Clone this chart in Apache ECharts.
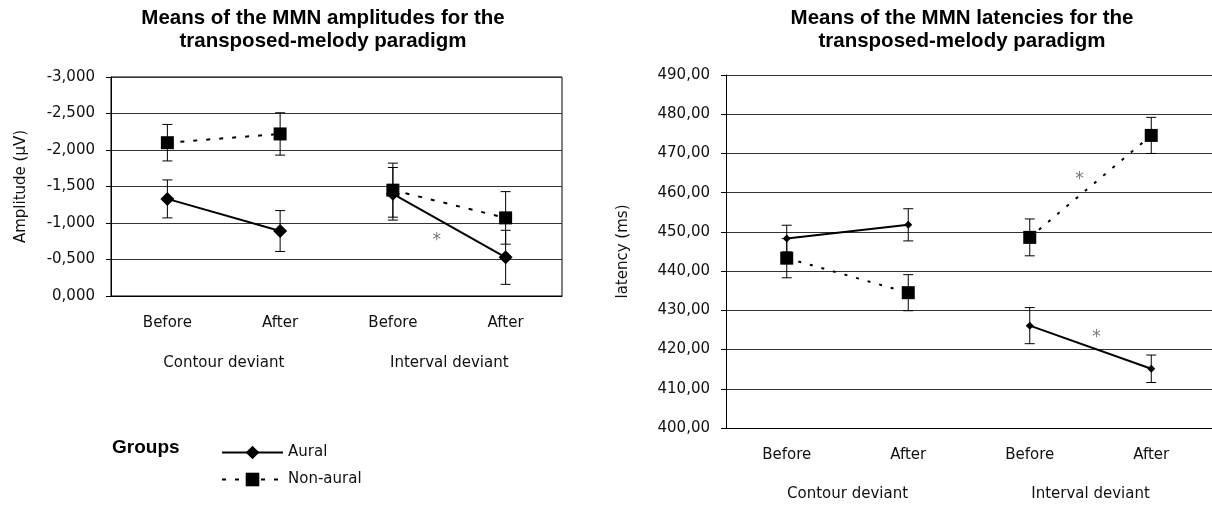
<!DOCTYPE html>
<html>
<head>
<meta charset="utf-8">
<script src="https://cdn.jsdelivr.net/npm/echarts@6/dist/echarts.min.js"></script>
<style>
  html, body { margin: 0; padding: 0; background: #fff; }
  #chart { width: 1212px; height: 506px; }
</style>
</head>
<body>
<div id="chart"></div>
<script>
// categories
var categories = ['Before', 'After', 'Before', 'After']
var deviants = ['Contour deviant', 'Interval deviant']

// amplitudes (µV), means and error half-widths
var ampAural = [-1.33, -0.89, -1.40, -0.53]
var ampAuralErr = [0.26, 0.28, 0.36, 0.37]
var ampNonAural = [-2.10, -2.22, -1.45, -1.07]
var ampNonAuralErr = [0.25, 0.29, 0.37, 0.36]

// latencies (ms)
var latAural = [448.3, 451.8, 426.1, 415.1]
var latAuralErr = [3.4, 4.1, 4.6, 3.5]
var latNonAural = [443.3, 434.5, 448.6, 474.6]
var latNonAuralErr = [5.0, 4.6, 4.7, 4.6]

// axis ranges [min, max, step]
var ampRange = [-3, 0, 0.5]
var latRange = [400, 490, 10]

// significance marks [x position in category units, value]
var ampStars = [[2.39, -0.81]]
var latStars = [[2.41, 464.3], [2.55, 424.0]]

var FONT = 'DejaVu Sans'

function errData (vals, errs) {
  return vals.map(function (v, i) { return [i, v - errs[i], v + errs[i]] })
}

// keep only the two points of one deviant (0 = contour, 1 = interval)
function part (vals, g) {
  return vals.map(function (v, i) { return Math.floor(i / 2) === g ? v : '-' })
}

function errorBarItem (params, api) {
  var x = api.value(0)
  var a = api.coord([x, api.value(1)])
  var b = api.coord([x, api.value(2)])
  var w = 5
  var st = { stroke: '#000', lineWidth: 1 }
  return {
    type: 'group',
    children: [
      { type: 'line', shape: { x1: a[0], y1: a[1], x2: b[0], y2: b[1] }, style: st },
      { type: 'line', shape: { x1: a[0] - w, y1: a[1], x2: a[0] + w, y2: a[1] }, style: st },
      { type: 'line', shape: { x1: b[0] - w, y1: b[1], x2: b[0] + w, y2: b[1] }, style: st }
    ]
  }
}

function catAxis (gridIndex, data, offset) {
  return {
    type: 'category',
    gridIndex: gridIndex,
    position: 'bottom',
    data: data,
    offset: offset,
    axisLine: { show: offset === 0, onZero: false, lineStyle: { color: '#000', width: 1 } },
    axisTick: { show: false },
    axisLabel: { interval: 0, margin: 20, color: '#111', fontFamily: FONT, fontSize: 15 },
    splitLine: { show: false }
  }
}

function hiddenX (gridIndex) {
  return { type: 'value', gridIndex: gridIndex, min: -0.5, max: 3.5, show: false }
}

function starSeries (xIdx, yIdx, data) {
  return {
    type: 'scatter',
    xAxisIndex: xIdx,
    yAxisIndex: yIdx,
    data: data,
    symbolSize: 1,
    itemStyle: { color: 'rgba(0,0,0,0)' },
    label: { show: true, position: 'inside', formatter: '*', color: '#555', fontFamily: FONT, fontSize: 17, offset: [0, 4] },
    silent: true,
    z: 5
  }
}

function lineSeries (name, xIdx, yIdx, vals, g, marker, size, dash) {
  return {
    name: name,
    type: 'line',
    xAxisIndex: xIdx,
    yAxisIndex: yIdx,
    data: part(vals, g),
    connectNulls: false,
    symbol: marker,
    symbolSize: size,
    itemStyle: { color: '#000' },
    lineStyle: { color: '#000', width: 2, type: dash || 'solid' },
    z: dash ? 3 : 4
  }
}

var yLabel = { color: '#111', fontFamily: FONT, fontSize: 15, margin: 16 }
var titleFont = 'bold 20.5px "Liberation Sans"'

var option = {
  animation: false,
  color: ['#000'],
  graphic: [
    { type: 'text', x: 323, y: 7, style: { text: 'Means of the MMN amplitudes for the\ntransposed-melody paradigm', font: titleFont, fill: '#000', align: 'center', lineHeight: 23 } },
    { type: 'text', x: 962, y: 7, style: { text: 'Means of the MMN latencies for the\ntransposed-melody paradigm', font: titleFont, fill: '#000', align: 'center', lineHeight: 23 } },
    { type: 'text', x: 112, y: 438, style: { text: 'Groups', font: 'bold 19px "Liberation Sans"', fill: '#000' } }
  ],
  legend: {
    data: ['Aural', 'Non-aural'],
    orient: 'vertical',
    left: 216,
    top: 440,
    itemWidth: 61,
    itemHeight: 17,
    itemGap: 12,
    selectedMode: false,
    textStyle: { color: '#111', fontFamily: FONT, fontSize: 15 }
  },
  grid: [
    { left: 111, top: 77, width: 451, height: 219, show: true, borderColor: '#000', borderWidth: 1, backgroundColor: 'transparent' },
    { left: 726, top: 75, width: 488, height: 353 }
  ],
  xAxis: [
    catAxis(0, categories, 0),
    catAxis(0, deviants, 40),
    hiddenX(0),
    catAxis(1, categories, 0),
    catAxis(1, deviants, 39),
    hiddenX(1)
  ],
  yAxis: [
    {
      type: 'value',
      gridIndex: 0,
      min: ampRange[0],
      max: ampRange[1],
      interval: ampRange[2],
      inverse: true,
      name: 'Amplitude (µV)',
      nameLocation: 'middle',
      nameGap: 82,
      nameTextStyle: { color: '#111', fontFamily: FONT, fontSize: 15 },
      axisLine: { show: true, onZero: false, lineStyle: { color: '#000', width: 1 } },
      axisTick: { show: true, length: 5, lineStyle: { color: '#000' } },
      axisLabel: Object.assign({ formatter: function (v) { return v.toFixed(3).replace('.', ',') } }, yLabel),
      splitLine: { show: true, lineStyle: { color: '#333', width: 1 } }
    },
    {
      type: 'value',
      gridIndex: 1,
      min: latRange[0],
      max: latRange[1],
      interval: latRange[2],
      name: 'latency (ms)',
      nameLocation: 'middle',
      nameGap: 95,
      nameTextStyle: { color: '#111', fontFamily: FONT, fontSize: 15 },
      axisLine: { show: true, onZero: false, lineStyle: { color: '#000', width: 1 } },
      axisTick: { show: true, length: 5, lineStyle: { color: '#000' } },
      axisLabel: Object.assign({ formatter: function (v) { return v.toFixed(2).replace('.', ',') } }, yLabel),
      splitLine: { show: true, lineStyle: { color: '#333', width: 1 } }
    }
  ],
  series: [
    { type: 'custom', xAxisIndex: 0, yAxisIndex: 0, renderItem: errorBarItem, data: errData(ampAural, ampAuralErr), encode: { x: 0, y: [1, 2] }, silent: true, z: 1 },
    { type: 'custom', xAxisIndex: 0, yAxisIndex: 0, renderItem: errorBarItem, data: errData(ampNonAural, ampNonAuralErr), encode: { x: 0, y: [1, 2] }, silent: true, z: 1 },
    lineSeries('Aural', 0, 0, ampAural, 0, 'diamond', 14),
    lineSeries('Aural', 0, 0, ampAural, 1, 'diamond', 14),
    lineSeries('Non-aural', 0, 0, ampNonAural, 0, 'rect', 13, [4, 9]),
    lineSeries('Non-aural', 0, 0, ampNonAural, 1, 'rect', 13, [4, 9]),
    starSeries(2, 0, ampStars),

    { type: 'custom', xAxisIndex: 3, yAxisIndex: 1, renderItem: errorBarItem, data: errData(latAural, latAuralErr), encode: { x: 0, y: [1, 2] }, silent: true, z: 1 },
    { type: 'custom', xAxisIndex: 3, yAxisIndex: 1, renderItem: errorBarItem, data: errData(latNonAural, latNonAuralErr), encode: { x: 0, y: [1, 2] }, silent: true, z: 1 },
    lineSeries('Aural', 3, 1, latAural, 0, 'diamond', 8),
    lineSeries('Aural', 3, 1, latAural, 1, 'diamond', 8),
    lineSeries('Non-aural', 3, 1, latNonAural, 0, 'rect', 13, [3, 9]),
    lineSeries('Non-aural', 3, 1, latNonAural, 1, 'rect', 13, [3, 9]),
    starSeries(5, 1, latStars)
  ]
}

var chart = echarts.init(document.getElementById('chart'))
chart.setOption(option)
</script>
</body>
</html>
